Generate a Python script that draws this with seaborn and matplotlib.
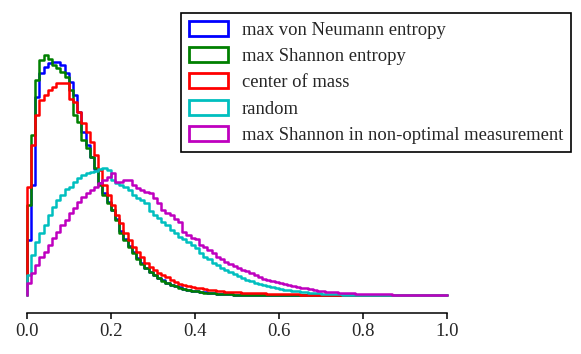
import numpy as np
import pandas as pd
import matplotlib
matplotlib.use("Agg")
import matplotlib.pyplot as plt
from matplotlib.patches import Patch
import seaborn as sns

# ---------- data (bin heights, 100 bins on [0, 1]) ----------
n_bins = 100
bin_edges = np.linspace(0, 1, n_bins + 1)

labels = ["max von Neumann entropy", "max Shannon entropy", "center of mass",
          "random", "max Shannon in non-optimal measurement"]
colors = ["#0000ff", "#008000", "#ff0000", "#00bfbf", "#bf00bf"]

vonneumann = [55, 110, 198, 222, 228, 232, 233, 233, 230, 222,
              213, 200, 183, 163, 150, 138, 126, 112, 102, 93,
              85, 76, 64, 56, 49, 43, 37, 32, 27, 23,
              20, 17, 15, 12, 10, 9, 8, 6, 5, 4,
              4, 3, 3, 2, 2, 1, 1, 1, 1, 0.5,
              0.5, 0.5, 0.5, 0.3, 0.3, 0.2, 0, 0, 0, 0,
              0, 0, 0, 0, 0, 0, 0, 0, 0, 0,
              0, 0, 0, 0, 0, 0, 0, 0, 0, 0,
              0, 0, 0, 0, 0, 0, 0, 0, 0, 0,
              0, 0, 0, 0, 0, 0, 0, 0, 0, 0]

shannon = [90, 160, 215, 235, 240, 236, 230, 227, 223, 218,
           205, 180, 173, 155, 147, 138, 127, 110, 100, 92,
           85, 75, 62, 55, 48, 42, 36, 31, 27, 23,
           20, 17, 14, 12, 10, 9, 7, 6, 5, 4,
           4, 3, 2, 2, 2, 1, 1, 1, 1, 0.5,
           0.5, 0.5, 0.5, 0.3, 0.3, 0, 0, 0, 0, 0,
           0, 0, 0, 0, 0, 0, 0, 0, 0, 0,
           0, 0, 0, 0, 0, 0, 0, 0, 0, 0,
           0, 0, 0, 0, 0, 0, 0, 0, 0, 0,
           0, 0, 0, 0, 0, 0, 0, 0, 0, 0]

center_mass = [108, 150, 180, 195, 200, 205, 208, 212, 212, 212,
               196, 193, 183, 172, 163, 153, 140, 125, 110, 100,
               90, 80, 72, 62, 55, 48, 43, 38, 32, 28,
               25, 22, 20, 18, 15, 13, 11, 10, 9, 8,
               7, 7, 6, 5, 5, 4, 4, 3, 3, 3,
               3, 2, 2, 2, 2, 2, 2, 1.5, 1.5, 1.5,
               1, 1, 1, 1, 1, 0.5, 0.5, 0.5, 0.5, 0.5,
               0.3, 0.3, 0.2, 0, 0, 0, 0, 0, 0, 0,
               0, 0, 0, 0, 0, 0, 0, 0, 0, 0,
               0, 0, 0, 0, 0, 0, 0, 0, 0, 0]

random_meas = [20, 40, 53, 62, 70, 80, 88, 95, 100, 106,
               108, 113, 117, 120, 122, 123, 124, 126, 127, 125,
               115, 112, 110, 108, 105, 100, 97, 95, 92, 84,
               80, 77, 73, 70, 65, 62, 58, 56, 53, 50,
               47, 42, 38, 36, 32, 30, 27, 25, 23, 21,
               19, 17, 15, 14, 12, 11, 10, 9, 8, 7,
               6, 5, 5, 4, 4, 3, 3, 2, 2, 2,
               1, 1, 1, 1, 1, 0.5, 0.5, 0.5, 0.3, 0.3,
               0.2, 0.2, 0.1, 0, 0, 0, 0, 0, 0, 0,
               0, 0, 0, 0, 0, 0, 0, 0, 0, 0]

nonoptimal = [12, 22, 30, 38, 43, 50, 57, 63, 70, 75,
              82, 87, 93, 98, 102, 105, 108, 112, 115, 118,
              122, 113, 113, 115, 115, 110, 107, 105, 103, 102,
              97, 92, 85, 82, 80, 76, 73, 63, 60, 57,
              56, 50, 48, 45, 42, 38, 36, 33, 31, 29,
              27, 25, 24, 22, 20, 18, 16, 15, 14, 13,
              12, 11, 10, 9, 8, 7, 7, 6, 5, 4,
              4, 3, 3, 3, 2, 2, 2, 2, 1, 1,
              1, 1, 1, 0.8, 0.8, 0.6, 0.6, 0.5, 0.5, 0.5,
              0.4, 0.4, 0.4, 0.3, 0.3, 0.3, 0.3, 0.3, 0.3, 0.3]

xticks = [0.0, 0.2, 0.4, 0.6, 0.8, 1.0]
xtick_labels = ["0.0", "0.2", "0.4", "0.6", "0.8", "1.0"]

series = [vonneumann, shannon, center_mass, random_meas, nonoptimal]

# ---------- plot ----------
sns.set_style("ticks")
plt.rcParams["font.family"] = ["Liberation Serif", "DejaVu Serif"]

fig = plt.figure(figsize=(5.81, 3.54), dpi=100)
ax = fig.add_axes([26.7 / 581, 59 / 354, (447 - 26.7) / 581, 245 / 354])

centers = (bin_edges[:-1] + bin_edges[1:]) / 2
for lab, col, vals in zip(labels, colors, series):
    df = pd.DataFrame({"x": centers, "h": vals})
    sns.histplot(data=df, x="x", weights="h", bins=n_bins, binrange=(0, 1),
                 element="step", fill=False, color=col, linewidth=1.8, ax=ax)

# close each outline down to the baseline at the left edge, like plt.hist(histtype="step")
for line in ax.lines:
    xs, ys = line.get_data()
    line.set_data(np.r_[xs[0], xs], np.r_[0, ys])
    line.set_clip_on(False)

ax.set_xlim(0, 1)
ax.set_ylim(0, 245)
sns.despine(ax=ax, left=True, offset=13)
ax.set_yticks([])
ax.set_xlabel("")
ax.set_ylabel("")
ax.set_xticks(xticks)
ax.set_xticklabels(xtick_labels, fontsize=13.5)
ax.tick_params(axis="x", direction="out", length=4, width=1.1, color="black", pad=3)
ax.spines["bottom"].set_linewidth(1.1)
ax.spines["bottom"].set_color("black")

handles = [Patch(facecolor="none", edgecolor=c, linewidth=2) for c in colors]
leg = ax.legend(handles, labels, loc="upper right",
                bbox_to_anchor=(571 / 581, 1 - 13 / 354),
                bbox_transform=fig.transFigure, borderaxespad=0,
                frameon=True, fancybox=False, framealpha=1, edgecolor="black",
                fontsize=13.4, handlelength=2.1, handleheight=0.85,
                handletextpad=0.75, labelspacing=0.45, borderpad=0.43)
leg.get_frame().set_linewidth(1.2)

fig.savefig("out.png", dpi=100)
